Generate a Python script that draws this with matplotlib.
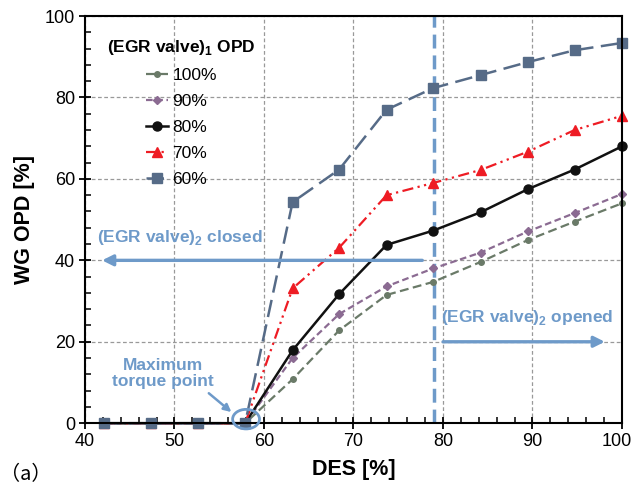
import matplotlib
matplotlib.use("Agg")
import matplotlib.pyplot as plt
import matplotlib.transforms as mtransforms
from matplotlib.patches import Ellipse

plt.rcParams['font.family'] = ['Liberation Sans', 'DejaVu Sans']
plt.rcParams['mathtext.fontset'] = 'custom'
plt.rcParams['mathtext.rm'] = 'Liberation Sans'
plt.rcParams['mathtext.bf'] = 'Liberation Sans:bold'

# data
des = [42.1, 47.4, 52.6, 57.9, 63.2, 68.4, 73.7, 78.9, 84.2, 89.5, 94.7, 100.0]
opd_100 = [0, 0, 0, 0, 10.8, 22.8, 31.5, 34.7, 39.6, 45.0, 49.5, 54.0]
opd_90 = [0, 0, 0, 0, 16.0, 26.8, 33.6, 38.0, 41.9, 47.1, 51.6, 56.3]
opd_80 = [0, 0, 0, 0, 17.9, 31.7, 43.8, 47.3, 51.8, 57.5, 62.3, 68.0]
opd_70 = [0, 0, 0, 0, 33.1, 43.1, 56.0, 59.0, 62.2, 66.7, 72.0, 75.5]
opd_60 = [0, 0, 0, 0, 54.3, 62.3, 77.0, 82.3, 85.5, 88.7, 91.6, 93.4]
labels = ['100%', '90%', '80%', '70%', '60%']
egr2_switch = 79.0

blue = '#6e9ac9'

fig, ax = plt.subplots(figsize=(6.34, 4.87), dpi=100)
fig.subplots_adjust(left=0.134, right=0.981, bottom=0.131, top=0.967)

ax.plot(des, opd_100, color='#6a7a68', ls=(0, (4, 2)), lw=1.6, marker='o', ms=4, label=labels[0], clip_on=False)
ax.plot(des, opd_90, color='#8b6b92', ls=(0, (3, 1.6)), lw=1.6, marker='D', ms=4.5, label=labels[1], clip_on=False)
ax.plot(des, opd_80, color='#111111', ls='-', lw=1.8, marker='o', ms=6.5, label=labels[2], clip_on=False)
ax.plot(des, opd_70, color='#ee1c24', ls=(0, (5, 2, 1, 2, 1, 2)), lw=1.6, marker='^', ms=6.5, label=labels[3], clip_on=False)
ax.plot(des, opd_60, color='#566b87', ls=(0, (7, 3)), lw=1.8, marker='s', ms=7, label=labels[4], clip_on=False)

ax.set_xlim(40, 100)
ax.set_ylim(0, 100)
ax.set_xticks([40, 50, 60, 70, 80, 90, 100])
ax.set_yticks([0, 20, 40, 60, 80, 100])
ax.set_xticks(range(40, 101, 2), minor=True)
ax.set_yticks(range(0, 101, 4), minor=True)
ax.tick_params(which='major', direction='inout', length=8, width=1.3, labelsize=13, pad=3)
ax.tick_params(which='minor', direction='in', length=4, width=1.1)
ax.grid(True, which='major', ls=(0, (3, 2)), color='#999999', lw=0.9)
for s in ax.spines.values():
    s.set_linewidth(1.5)

# keep the last x tick label inside the figure
last = ax.get_xticklabels()[-1]
last.set_transform(last.get_transform() + mtransforms.ScaledTranslation(-5 / 100, 0, fig.dpi_scale_trans))

ax.set_xlabel('DES [%]', fontsize=15.5, fontweight='bold')
ax.set_ylabel('WG OPD [%]', fontsize=15.5, fontweight='bold')
ax.xaxis.set_label_coords(0.5, -0.088)
ax.yaxis.set_label_coords(-0.093, 0.5)

leg = ax.legend(loc='upper left', bbox_to_anchor=(0.041, 0.946), frameon=False, fontsize=12.5,
                title='(EGR valve)$_\\mathbf{1}$ OPD', handlelength=1.3, labelspacing=0.62,
                handletextpad=0.25, borderpad=0, borderaxespad=0)
leg.get_title().set_fontweight('bold')
leg.get_title().set_fontsize(12.5)

# EGR valve 2 switching line and annotations
ax.axvline(egr2_switch, color=blue, ls=(0, (4, 2)), lw=2.5, zorder=1)
ax.annotate('', xy=(41.6, 40), xytext=(78.0, 40),
            arrowprops=dict(arrowstyle='-|>', color=blue, lw=2.4, mutation_scale=16))
ax.text(41.3, 45.5, '(EGR valve)$_\\mathbf{2}$ closed', color=blue, fontsize=12.5, fontweight='bold', va='center')
ax.annotate('', xy=(98.4, 20), xytext=(79.7, 20),
            arrowprops=dict(arrowstyle='-|>', color=blue, lw=2.4, mutation_scale=16))
ax.text(79.8, 26, '(EGR valve)$_\\mathbf{2}$ opened', color=blue, fontsize=12.5, fontweight='bold', va='center')

ax.add_patch(Ellipse((58.0, 1.0), 3.0, 4.8, fill=False, edgecolor=blue, lw=2, clip_on=False, zorder=6))
ax.annotate('', xy=(56.6, 2.3), xytext=(53.6, 7.8),
            arrowprops=dict(arrowstyle='-|>', color=blue, lw=1.8, mutation_scale=11))
ax.text(48.7, 12.3, 'Maximum\ntorque point', color=blue, fontsize=12.5, fontweight='bold',
        ha='center', va='center', linespacing=1.1)

fig.text(0.0, 0.015, '（a）', fontsize=14.5, family=['Noto Sans CJK SC', 'DejaVu Sans'])

fig.savefig('out.png', dpi=100)
